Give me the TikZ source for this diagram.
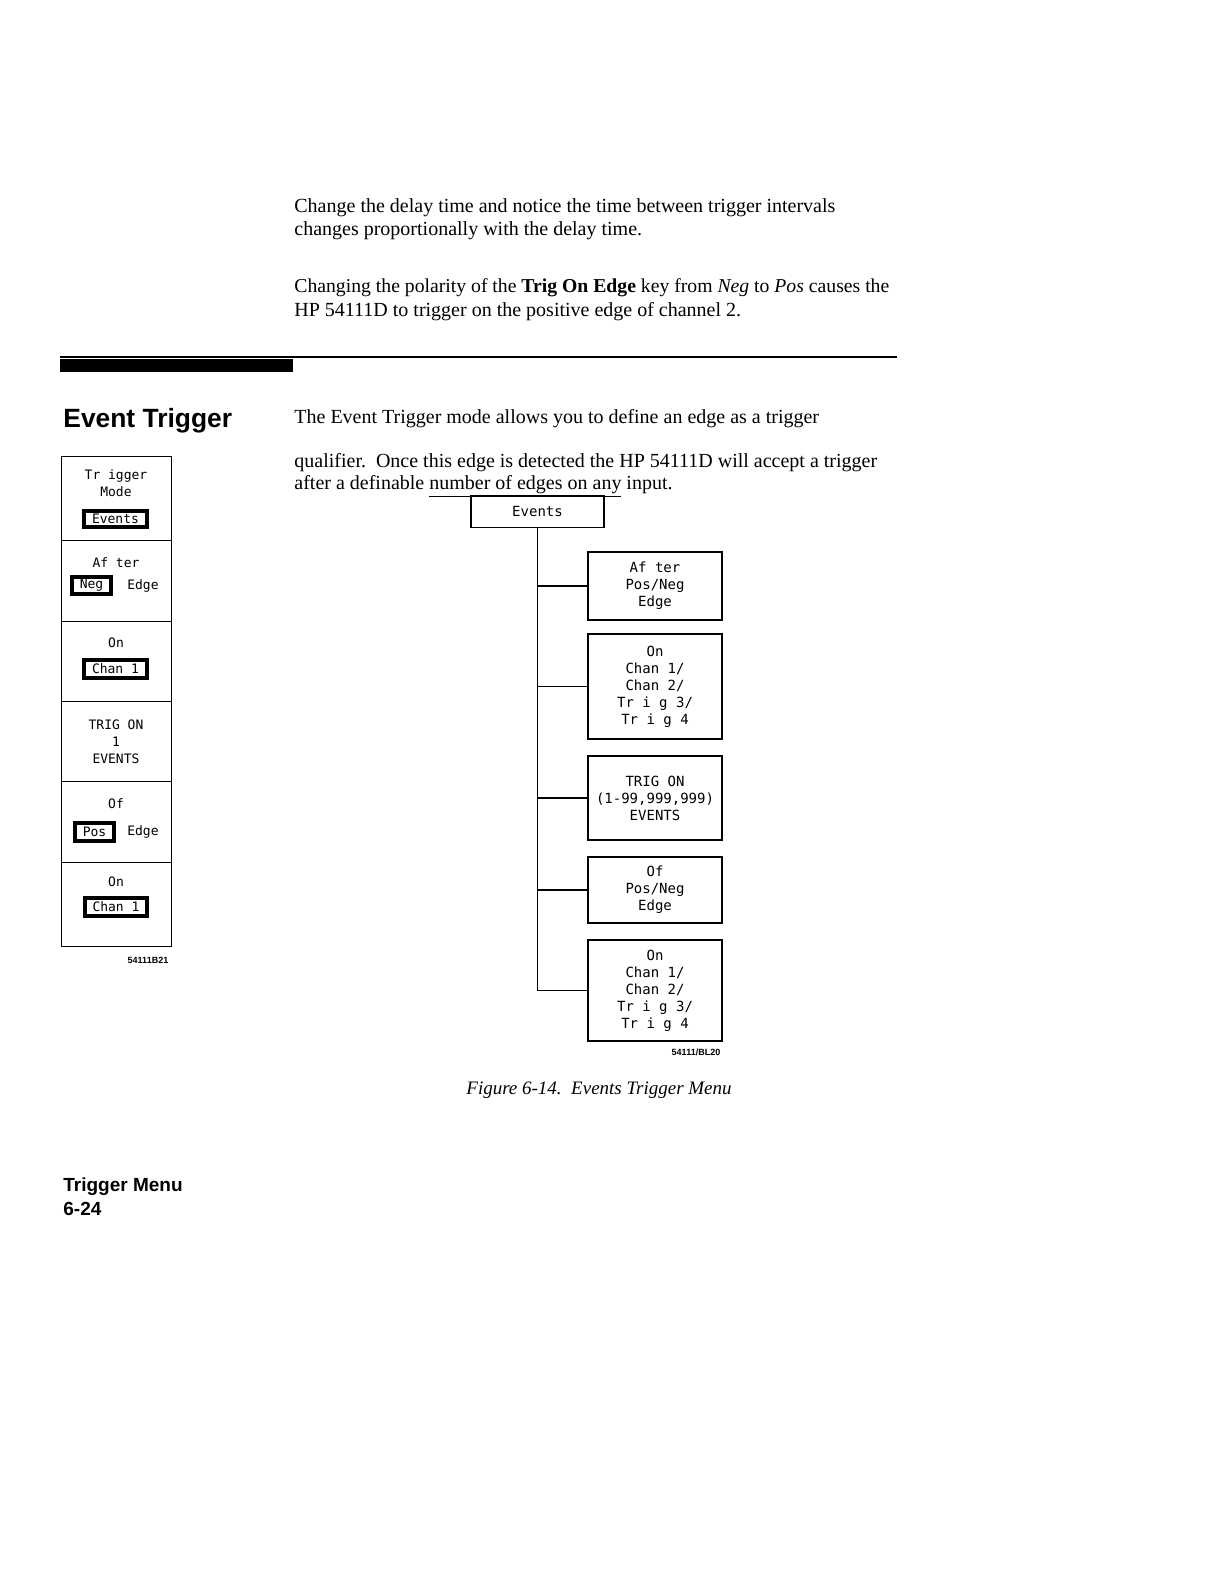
\documentclass[tikz,border=0pt]{standalone}
\usepackage{fontspec}
\setmainfont{Liberation Serif}
\newfontfamily\headfont{Liberation Sans}
\newfontfamily\plotfont{DejaVu Sans Mono}
\begin{document}
\begin{tikzpicture}[x=0.5pt,y=-0.5pt,
  body/.style={anchor=base west, inner sep=0, font=\fontsize{10}{12}\selectfont},
  panel/.style={draw, line width=0.5pt, minimum width=55pt, inner sep=0},
  keybox/.style={draw, line width=2.1pt, inner sep=0, font=\plotfont\fontsize{6.5}{8}\selectfont},
  ptext/.style={inner sep=0, align=center, font=\plotfont\fontsize{6.5}{8.5}\selectfont},
  rbox/.style={draw, line width=0.8pt, minimum width=67pt, inner sep=0, align=center, font=\plotfont\fontsize{7}{8.5}\selectfont},
  tagtext/.style={inner sep=0, font=\headfont\bfseries\fontsize{4.5}{5}\selectfont},
  branch/.style={line width=0.9pt},
  trunk/.style={line width=0.6pt}]
\useasboundingbox (0,0) rectangle (1224,1584);
\fill[white] (0,0) rectangle (1224,1584);

% top paragraphs
\node[body] (l1) at (294,212) {Change the delay time and notice the time between trigger intervals};
\node[body] (l2) at (294,235) {changes proportionally with the delay time.};
\node[body, font=\fontsize{9.85}{12}\selectfont] (l3) at (294,292) {Changing the polarity of the \textbf{Trig On Edge} key from \textit{Neg} to \textit{Pos} causes the};
\node[body] (l4) at (294,316) {HP 54111D to trigger on the positive edge of channel 2.};

% separator
\draw[line width=1pt] (60,357) -- (897,357);
\fill (60,359) rectangle (293,372);

% heading
\node[anchor=base west, inner sep=0, font=\headfont\bfseries\fontsize{13.2}{15}\selectfont] (head) at (63,427) {Event Trigger};
\node[body] (e1) at (294,423) {The Event Trigger mode allows you to define an edge as a trigger};
\node[body] (e2) at (294,467) {qualifier.\ \ Once this edge is detected the HP 54111D will accept a trigger};
\node[body] (e3) at (294,489) {after a definable \underline{number of edges on any} input.};

% left softkey panel
\node[panel, minimum height=42pt] (p1) at (116,498) {};
\node[panel, minimum height=40.5pt] (p2) at (116,580.5) {};
\node[panel, minimum height=40pt] (p3) at (116,661) {};
\node[panel, minimum height=40pt] (p4) at (116,741) {};
\node[panel, minimum height=40.5pt] (p5) at (116,821.5) {};
\node[panel, minimum height=42pt] (p6) at (116,904) {};

\node[ptext] (t1) at (116,483) {Tr igger\\Mode};
\node[keybox, minimum width=31.5pt, minimum height=8pt] (k1) at (115.5,519) {Events};
\node[ptext] (t2) at (116,563) {Af ter};
\node[keybox, minimum width=19.5pt, minimum height=8.5pt] (k2) at (91.5,585.5) {Neg};
\node[ptext] (t2b) at (143,586) {Edge};
\node[ptext] (t3) at (116,643) {On};
\node[keybox, minimum width=31.5pt, minimum height=9pt] (k3) at (115.5,669) {Chan 1};
\node[ptext] (t4) at (116,742) {TRIG ON\\1\\EVENTS};
\node[ptext] (t5) at (116,804) {Of};
\node[keybox, minimum width=19.5pt, minimum height=9pt] (k5) at (94.5,832) {Pos};
\node[ptext] (t5b) at (143,832) {Edge};
\node[ptext] (t6) at (116,882) {On};
\node[keybox, minimum width=31pt, minimum height=9pt] (k6) at (116,907) {Chan 1};
\node[tagtext] (tag1) at (148,960) {54111B21};

% right menu tree
\node[rbox, line width=0.6pt, minimum width=66.5pt, minimum height=16pt] (events) at (537.5,511.5) {Events};
\node[rbox, minimum height=34pt] (after) at (655,586) {Af ter\\Pos/Neg\\Edge};
\node[rbox, minimum height=52.5pt] (on1) at (655,686.5) {On\\Chan 1/\\Chan 2/\\Tr i g 3/\\Tr i g 4};
\node[rbox, minimum height=42pt] (trig) at (655,798) {TRIG ON\\(1-99,999,999)\\EVENTS};
\node[rbox, minimum height=33pt] (of) at (655,890) {Of\\Pos/Neg\\Edge};
\node[rbox, minimum height=50.5pt] (on2) at (655,990.5) {On\\Chan 1/\\Chan 2/\\Tr i g 3/\\Tr i g 4};
\node[tagtext] (tag2) at (696,1052) {54111/BL20};

\coordinate (tend) at (events.south |- on2.west);
\draw[trunk] (events.south) -- (tend);
\draw[branch] (after.west) -- (after.west -| events.south);
\draw[branch] (on1.west) -- (on1.west -| events.south);
\draw[branch] (trig.west) -- (trig.west -| events.south);
\draw[branch] (of.west) -- (of.west -| events.south);
\draw[branch] (on2.west) -- (tend);

% caption
\node[anchor=base west, inner sep=0, font=\itshape\fontsize{9.5}{11}\selectfont] (cap) at (466,1094) {Figure 6-14.\ \ Events Trigger Menu};

% footer
\node[anchor=base west, inner sep=0, font=\headfont\bfseries\fontsize{9.5}{11}\selectfont] (f1) at (63,1191) {Trigger Menu};
\node[anchor=base west, inner sep=0, font=\headfont\bfseries\fontsize{9.5}{11}\selectfont] (f2) at (63,1215) {6-24};
\end{tikzpicture}
\end{document}
